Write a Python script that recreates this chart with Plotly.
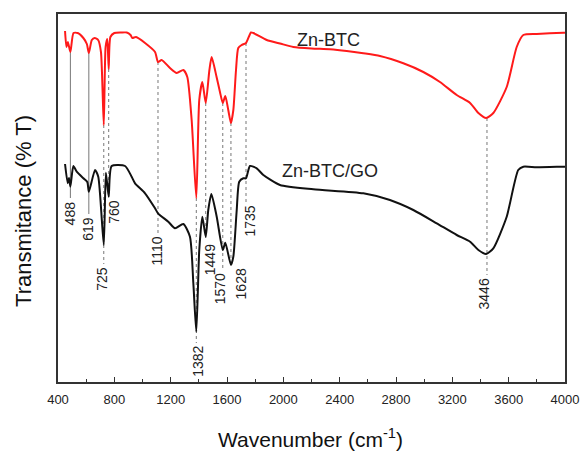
import plotly.graph_objects as go

# ---- data (wavenumber, transmittance in arbitrary units) ----
red_wn = [450, 460, 470, 488, 510, 540, 580, 605, 619, 640, 660, 685, 705, 725, 738, 750, 760, 772,
          800, 850, 888, 915, 928, 954, 1018, 1089, 1110, 1136, 1195, 1243, 1290, 1318, 1349, 1382,
          1403, 1425, 1449, 1475, 1491, 1526, 1550, 1570, 1588, 1609, 1628, 1645, 1664, 1680, 1704,
          1735, 1770, 1787, 1882, 1976, 2071, 2200, 2331, 2450, 2568, 2686, 2852, 2994, 3112, 3231,
          3326, 3385, 3440, 3491, 3586, 3657, 3704, 3799, 3988, 4000]
red_t = [351, 335, 340, 330, 349, 349, 344, 338, 329, 342, 344, 342, 330, 257, 335, 343, 313, 345,
         349, 349.5, 349.5, 347, 344, 345, 339, 330, 320, 322, 314, 309, 312, 305, 262, 184,
         282, 300, 279, 312, 325, 305, 290, 279, 286, 272, 259, 272, 312, 334, 337,
         339, 349.5, 349, 342, 338.5, 335, 333.5, 332.7, 331, 328.7, 326, 318.7, 310, 300, 287,
         279, 269, 264, 269, 295, 335, 347, 348, 349.3, 349.3]

black_wn = [450, 469, 478, 488, 509, 533, 580, 608, 619, 663, 686, 725, 740, 760, 781, 876, 923, 947,
            1018, 1089, 1110, 1183, 1231, 1290, 1337, 1361, 1382, 1403, 1425, 1449, 1467, 1489, 1527,
            1570, 1588, 1628, 1645, 1669, 1687, 1716, 1735, 1763, 1811, 1858, 1976, 2213, 2568, 2757,
            2923, 3089, 3231, 3326, 3385, 3440, 3491, 3586, 3668, 3704, 3799, 3988, 4000]
black_t = [218, 198.7, 204, 195.3, 216, 210.3, 203.7, 200, 190.3, 212, 205.3, 137, 209.3, 185.3, 216, 216, 205.3, 198.7,
           188.7, 173.7, 168.7, 160.3, 153.7, 158, 145.3, 98.7, 50.3, 132, 165.3, 145.3, 172, 188, 165.3,
           132, 139.3, 117, 125.3, 172, 200.3, 203.7, 203.7, 216, 213.7, 207, 197, 192.7, 188.7, 182,
           172, 158.7, 147, 140.3, 132, 128, 133.7, 165.3, 212, 215.3, 214.7, 215.3, 215.3]

peak_wn = [488, 619, 725, 760, 1110, 1382, 1449, 1570, 1628, 1735, 3446]
peak_labels = ["488", "619", "725", "760", "1110", "1382", "1449", "1570", "1628", "1735", "3446"]
line_top = [330, 329, 257, 313, 320, 184, 279, 279, 259, 339, 264]
line_bottom = [184, 168, 118, 185, 149, 39, 141, 112, 117, 179, 107]

x_ticks = [400, 800, 1200, 1600, 2000, 2400, 2800, 3200, 3600, 4000]

series_names = ["Zn-BTC", "Zn-BTC/GO"]
x_title = "Wavenumber (cm<sup>-1</sup>)"
y_title = "Transmitance (% T)"

# ---- styling / layout helpers (not data) ----
label_shift = [0, -1, -2, 5, -1, 1, 4, -3, 10, 3, -3]
solid_lines = {"488", "619"}
FONT = "Liberation Sans, Arial, Helvetica, sans-serif"

fig = go.Figure()

for wn, lab, top, bot in zip(peak_wn, peak_labels, line_top, line_bottom):
    fig.add_trace(go.Scatter(
        x=[wn, wn], y=[top, bot], mode="lines", showlegend=False, hoverinfo="skip",
        line=dict(color="#777777", width=1, dash="solid" if lab in solid_lines else "dot")))

fig.add_trace(go.Scatter(x=red_wn, y=red_t, mode="lines", name=series_names[0], showlegend=False,
                         line=dict(color="#ff1a1a", width=2, shape="spline", smoothing=0.6)))
fig.add_trace(go.Scatter(x=black_wn, y=black_t, mode="lines", name=series_names[1], showlegend=False,
                         line=dict(color="#111111", width=2, shape="spline", smoothing=0.6)))

for wn, lab, bot, sh in zip(peak_wn, peak_labels, line_bottom, label_shift):
    fig.add_annotation(x=wn, y=bot - 1, text=lab, showarrow=False, textangle=-90,
                       xanchor="center", yanchor="top", xshift=sh,
                       font=dict(family=FONT, size=14, color="#222222"))

fig.add_annotation(x=2083, y=342, text=series_names[0], showarrow=False, xanchor="left", yanchor="middle",
                   font=dict(family=FONT, size=18, color="#222222"))
fig.add_annotation(x=1976, y=211, text=series_names[1], showarrow=False, xanchor="left", yanchor="middle",
                   font=dict(family=FONT, size=18, color="#222222"))

# axis titles as annotations for exact placement
fig.add_annotation(xref="paper", yref="paper", x=0.499, y=0, yshift=-56, text=x_title, showarrow=False,
                   xanchor="center", yanchor="middle", font=dict(family=FONT, size=21, color="#111111"))
fig.add_annotation(xref="paper", yref="paper", x=0, xshift=-34, y=0.465, text=y_title, showarrow=False,
                   textangle=-90, xanchor="center", yanchor="middle",
                   font=dict(family=FONT, size=22, color="#111111"))

fig.update_layout(
    width=585, height=453,
    margin=dict(l=58, r=20, t=14, b=71, autoexpand=False),
    paper_bgcolor="white", plot_bgcolor="white",
    font=dict(family=FONT, color="#222222"),
    xaxis=dict(range=[400, 4000], tickvals=x_ticks, ticktext=[str(v) for v in x_ticks],
               ticks="inside", ticklen=5, tickwidth=1, tickcolor="#333333", ticklabelstandoff=5,
               minor=dict(dtick=200, ticks="inside", ticklen=3, tickcolor="#333333", showgrid=False),
               showline=True, linecolor="#333333", linewidth=1.5, mirror=True,
               showgrid=False, zeroline=False, automargin=False,
               tickfont=dict(family=FONT, size=13, color="#222222")),
    yaxis=dict(range=[0, 368], showticklabels=False, ticks="",
               showline=True, linecolor="#333333", linewidth=1.5, mirror=True,
               showgrid=False, zeroline=False, automargin=False),
)

fig.write_html("out.html")
